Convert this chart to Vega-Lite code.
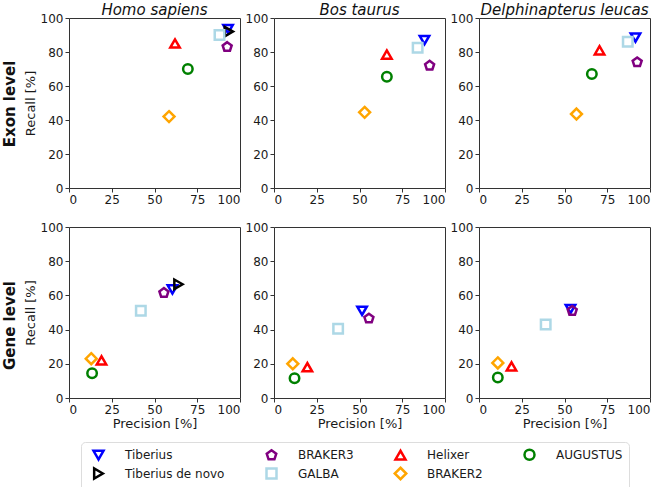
{
  "$schema": "https://vega.github.io/schema/vega-lite/v6.json",
  "padding": {"top": 2, "left": 2, "right": 0, "bottom": 0},
  "background": "white",
  "data": {"values": [
    {"level": "Exon", "species": "Homo sapiens", "tool": "Tiberius", "precision": 93, "recall": 93.5},
    {"level": "Exon", "species": "Homo sapiens", "tool": "Tiberius de novo", "precision": 93.5, "recall": 92},
    {"level": "Exon", "species": "Homo sapiens", "tool": "BRAKER3", "precision": 92.5, "recall": 83},
    {"level": "Exon", "species": "Homo sapiens", "tool": "GALBA", "precision": 88, "recall": 90},
    {"level": "Exon", "species": "Homo sapiens", "tool": "Helixer", "precision": 62, "recall": 85},
    {"level": "Exon", "species": "Homo sapiens", "tool": "BRAKER2", "precision": 58.5, "recall": 42},
    {"level": "Exon", "species": "Homo sapiens", "tool": "AUGUSTUS", "precision": 69.5, "recall": 70},
    {"level": "Exon", "species": "Bos taurus", "tool": "Tiberius", "precision": 88, "recall": 87},
    {"level": "Exon", "species": "Bos taurus", "tool": "BRAKER3", "precision": 91, "recall": 72},
    {"level": "Exon", "species": "Bos taurus", "tool": "GALBA", "precision": 84, "recall": 82.5},
    {"level": "Exon", "species": "Bos taurus", "tool": "Helixer", "precision": 66, "recall": 78.5},
    {"level": "Exon", "species": "Bos taurus", "tool": "BRAKER2", "precision": 53, "recall": 44.5},
    {"level": "Exon", "species": "Bos taurus", "tool": "AUGUSTUS", "precision": 66, "recall": 65.5},
    {"level": "Exon", "species": "Delphinapterus leucas", "tool": "Tiberius", "precision": 91.5, "recall": 88.5},
    {"level": "Exon", "species": "Delphinapterus leucas", "tool": "BRAKER3", "precision": 92.5, "recall": 74},
    {"level": "Exon", "species": "Delphinapterus leucas", "tool": "GALBA", "precision": 87, "recall": 86},
    {"level": "Exon", "species": "Delphinapterus leucas", "tool": "Helixer", "precision": 70.5, "recall": 81},
    {"level": "Exon", "species": "Delphinapterus leucas", "tool": "BRAKER2", "precision": 57, "recall": 43.5},
    {"level": "Exon", "species": "Delphinapterus leucas", "tool": "AUGUSTUS", "precision": 66, "recall": 67},
    {"level": "Gene", "species": "Homo sapiens", "tool": "Tiberius", "precision": 60.5, "recall": 63.5},
    {"level": "Gene", "species": "Homo sapiens", "tool": "Tiberius de novo", "precision": 64, "recall": 66.5},
    {"level": "Gene", "species": "Homo sapiens", "tool": "BRAKER3", "precision": 55.5, "recall": 61.5},
    {"level": "Gene", "species": "Homo sapiens", "tool": "GALBA", "precision": 42, "recall": 51},
    {"level": "Gene", "species": "Homo sapiens", "tool": "Helixer", "precision": 19, "recall": 22},
    {"level": "Gene", "species": "Homo sapiens", "tool": "BRAKER2", "precision": 13, "recall": 23},
    {"level": "Gene", "species": "Homo sapiens", "tool": "AUGUSTUS", "precision": 13.5, "recall": 14.5},
    {"level": "Gene", "species": "Bos taurus", "tool": "Tiberius", "precision": 51.5, "recall": 51},
    {"level": "Gene", "species": "Bos taurus", "tool": "BRAKER3", "precision": 55.5, "recall": 46.5},
    {"level": "Gene", "species": "Bos taurus", "tool": "GALBA", "precision": 37.5, "recall": 40.5},
    {"level": "Gene", "species": "Bos taurus", "tool": "Helixer", "precision": 19.5, "recall": 18},
    {"level": "Gene", "species": "Bos taurus", "tool": "BRAKER2", "precision": 11, "recall": 20},
    {"level": "Gene", "species": "Bos taurus", "tool": "AUGUSTUS", "precision": 12, "recall": 11.5},
    {"level": "Gene", "species": "Delphinapterus leucas", "tool": "Tiberius", "precision": 53.5, "recall": 52},
    {"level": "Gene", "species": "Delphinapterus leucas", "tool": "BRAKER3", "precision": 54.5, "recall": 51},
    {"level": "Gene", "species": "Delphinapterus leucas", "tool": "GALBA", "precision": 39, "recall": 43},
    {"level": "Gene", "species": "Delphinapterus leucas", "tool": "Helixer", "precision": 19, "recall": 18.5},
    {"level": "Gene", "species": "Delphinapterus leucas", "tool": "BRAKER2", "precision": 11, "recall": 20.5},
    {"level": "Gene", "species": "Delphinapterus leucas", "tool": "AUGUSTUS", "precision": 11, "recall": 12}
  ]},
  "config": {
    "font": "DejaVu Sans",
    "view": {"stroke": "#333333", "strokeWidth": 1},
    "axis": {"grid": false, "domain": false, "labelFontSize": 12, "titleFontSize": 13, "titleFontWeight": "normal", "labelColor": "#1a1a1a", "titleColor": "#1a1a1a", "tickColor": "#333333", "tickSize": 4, "labelPadding": 2, "titlePadding": 3},
    "title": {"fontSize": 15, "fontStyle": "italic", "fontWeight": "normal", "color": "#111111", "offset": -6},
    "legend": {"orient": "none", "legendX": 12, "legendY": 424, "direction": "horizontal", "columns": 4, "title": null, "labelFontSize": 12, "labelColor": "#1a1a1a", "symbolSize": 100, "symbolStrokeWidth": 2.5, "symbolOffset": 5, "labelOffset": 20, "columnPadding": 35, "rowPadding": -3, "padding": 6, "strokeColor": "#dddddd", "cornerRadius": 4, "fillColor": "white"}
  },
  "vconcat": [
    {
      "title": {"text": "Exon level", "orient": "left", "anchor": "middle", "fontSize": 15, "fontWeight": "bold", "fontStyle": "normal", "offset": 6},
      "spacing": 34,
      "bounds": "flush",
      "hconcat": [
        {
          "width": 171, "height": 170,
          "title": {"text": "Homo sapiens"},
          "transform": [{"filter": "datum.level === 'Exon' && datum.species === 'Homo sapiens'"}],
          "mark": {"type": "point", "filled": false, "strokeWidth": 2.5, "size": 90, "opacity": 1},
          "encoding": {
            "x": {"field": "precision", "type": "quantitative", "scale": {"domain": [0, 100]}, "axis": {"values": [0, 25, 50, 75, 100], "title": null}},
            "y": {"field": "recall", "type": "quantitative", "scale": {"domain": [0, 100]}, "axis": {"values": [0, 20, 40, 60, 80, 100], "title": "Recall [%]"}},
            "color": {"field": "tool", "type": "nominal", "scale": {"domain": ["Tiberius", "BRAKER3", "Helixer", "AUGUSTUS", "Tiberius de novo", "GALBA", "BRAKER2"], "range": ["#0000ff", "#800080", "#ff0000", "#008000", "#000000", "#add8e6", "#ffa500"]}},
            "shape": {"field": "tool", "type": "nominal", "scale": {"domain": ["Tiberius", "BRAKER3", "Helixer", "AUGUSTUS", "Tiberius de novo", "GALBA", "BRAKER2"], "range": ["triangle-down", "M0,-1L0.951,-0.309L0.588,0.809L-0.588,0.809L-0.951,-0.309Z", "triangle-up", "circle", "triangle-right", "square", "M0,-1.15L1.15,0L0,1.15L-1.15,0Z"]}}
          }
        },
        {
          "width": 171, "height": 170,
          "title": {"text": "Bos taurus"},
          "transform": [{"filter": "datum.level === 'Exon' && datum.species === 'Bos taurus'"}],
          "mark": {"type": "point", "filled": false, "strokeWidth": 2.5, "size": 90, "opacity": 1},
          "encoding": {
            "x": {"field": "precision", "type": "quantitative", "scale": {"domain": [0, 100]}, "axis": {"values": [0, 25, 50, 75, 100], "title": null}},
            "y": {"field": "recall", "type": "quantitative", "scale": {"domain": [0, 100]}, "axis": {"values": [0, 20, 40, 60, 80, 100], "title": null}},
            "color": {"field": "tool", "type": "nominal"},
            "shape": {"field": "tool", "type": "nominal"}
          }
        },
        {
          "width": 171, "height": 170,
          "title": {"text": "Delphinapterus leucas"},
          "transform": [{"filter": "datum.level === 'Exon' && datum.species === 'Delphinapterus leucas'"}],
          "mark": {"type": "point", "filled": false, "strokeWidth": 2.5, "size": 90, "opacity": 1},
          "encoding": {
            "x": {"field": "precision", "type": "quantitative", "scale": {"domain": [0, 100]}, "axis": {"values": [0, 25, 50, 75, 100], "title": null}},
            "y": {"field": "recall", "type": "quantitative", "scale": {"domain": [0, 100]}, "axis": {"values": [0, 20, 40, 60, 80, 100], "title": null}},
            "color": {"field": "tool", "type": "nominal"},
            "shape": {"field": "tool", "type": "nominal"}
          }
        }
      ]
    },
    {
      "title": {"text": "Gene level", "orient": "left", "anchor": "middle", "fontSize": 15, "fontWeight": "bold", "fontStyle": "normal", "offset": 6},
      "spacing": 34,
      "bounds": "flush",
      "hconcat": [
        {
          "width": 171, "height": 171,
          "transform": [{"filter": "datum.level === 'Gene' && datum.species === 'Homo sapiens'"}],
          "mark": {"type": "point", "filled": false, "strokeWidth": 2.5, "size": 90, "opacity": 1},
          "encoding": {
            "x": {"field": "precision", "type": "quantitative", "scale": {"domain": [0, 100]}, "axis": {"values": [0, 25, 50, 75, 100], "title": "Precision [%]", "titlePadding": 2}},
            "y": {"field": "recall", "type": "quantitative", "scale": {"domain": [0, 100]}, "axis": {"values": [0, 20, 40, 60, 80, 100], "title": "Recall [%]"}},
            "color": {"field": "tool", "type": "nominal"},
            "shape": {"field": "tool", "type": "nominal"}
          }
        },
        {
          "width": 171, "height": 171,
          "transform": [{"filter": "datum.level === 'Gene' && datum.species === 'Bos taurus'"}],
          "mark": {"type": "point", "filled": false, "strokeWidth": 2.5, "size": 90, "opacity": 1},
          "encoding": {
            "x": {"field": "precision", "type": "quantitative", "scale": {"domain": [0, 100]}, "axis": {"values": [0, 25, 50, 75, 100], "title": "Precision [%]", "titlePadding": 2}},
            "y": {"field": "recall", "type": "quantitative", "scale": {"domain": [0, 100]}, "axis": {"values": [0, 20, 40, 60, 80, 100], "title": null}},
            "color": {"field": "tool", "type": "nominal"},
            "shape": {"field": "tool", "type": "nominal"}
          }
        },
        {
          "width": 171, "height": 171,
          "transform": [{"filter": "datum.level === 'Gene' && datum.species === 'Delphinapterus leucas'"}],
          "mark": {"type": "point", "filled": false, "strokeWidth": 2.5, "size": 90, "opacity": 1},
          "encoding": {
            "x": {"field": "precision", "type": "quantitative", "scale": {"domain": [0, 100]}, "axis": {"values": [0, 25, 50, 75, 100], "title": "Precision [%]", "titlePadding": 2}},
            "y": {"field": "recall", "type": "quantitative", "scale": {"domain": [0, 100]}, "axis": {"values": [0, 20, 40, 60, 80, 100], "title": null}},
            "color": {"field": "tool", "type": "nominal"},
            "shape": {"field": "tool", "type": "nominal"}
          }
        }
      ]
    }
  ],
  "spacing": 14
}
